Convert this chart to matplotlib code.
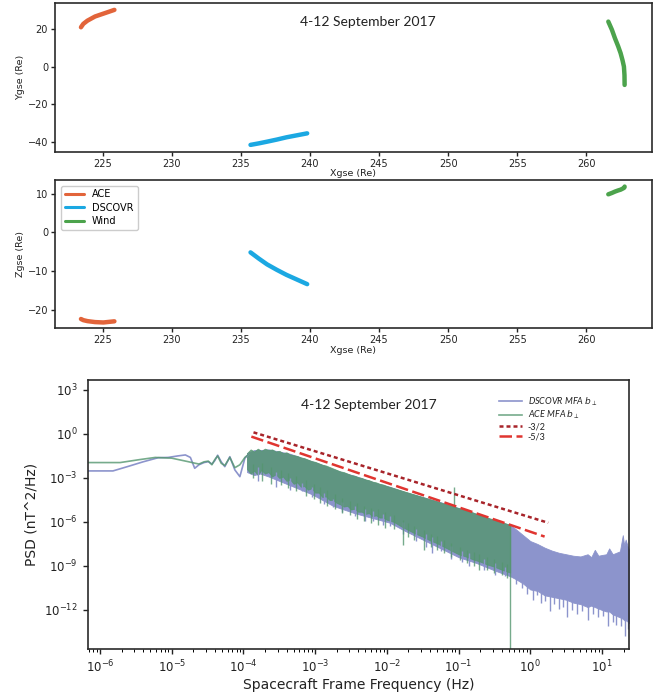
import numpy as np
import matplotlib
matplotlib.use("Agg")
import matplotlib.pyplot as plt

# ---------------- spacecraft positions (GSE, Earth radii) ----------------
ace_x = [223.43, 223.6, 223.9, 224.45, 225.05, 225.85]
ace_y = [20.8, 22.6, 24.3, 26.5, 28.0, 30.0]
ace_z = [-22.4, -22.7, -22.95, -23.2, -23.3, -23.0]

dscovr_x = [235.7, 236.3, 236.9, 237.6, 238.3, 239.8]
dscovr_y = [-41.4, -40.6, -39.7, -38.6, -37.4, -35.3]
dscovr_z = [-5.2, -6.8, -8.3, -9.7, -11.0, -13.4]

wind_x = [261.59, 261.85, 262.07, 262.3, 262.48, 262.62, 262.72, 262.76, 262.77]
wind_y = [23.8, 19.5, 15.0, 10.8, 7.1, 3.3, 0.0, -4.5, -9.7]
wind_z = [9.8, 10.15, 10.5, 10.8, 11.0, 11.25, 11.45, 11.6, 11.8]

craft_names = ["ACE", "DSCOVR", "Wind"]
craft_colors = ["#e2643a", "#1ba8e2", "#4ca34c"]

period_label = "4-12 September 2017"

# ---------------- magnetic field spectra (log10 f [Hz], log10 PSD [nT^2/Hz]) ----------------
# low-frequency part, drawn as lines
dscovr_lf_logf = [-6.3, -5.82, -5.6, -5.4, -5.19, -5.05, -4.92, -4.81, -4.74, -4.68, -4.62,
                  -4.55, -4.49, -4.44, -4.40, -4.36, -4.31, -4.26, -4.19, -4.12, -4.05,
                  -3.98, -3.93]
dscovr_lf_logp = [-2.52, -2.52, -2.2, -1.9, -1.62, -1.6, -1.5, -1.43, -1.6, -2.34, -2.1,
                  -1.95, -1.89, -2.05, -1.82, -1.45, -1.9, -2.23, -1.55, -2.45, -2.91,
                  -1.65, -1.4]
ace_lf_logf = [-6.3, -5.72, -5.45, -5.23, -5.0, -4.77, -4.68, -4.62, -4.55, -4.49, -4.44,
               -4.40, -4.36, -4.31, -4.26, -4.19, -4.12, -4.05, -3.98, -3.93]
ace_lf_logp = [-1.95, -1.95, -1.75, -1.6, -1.65, -1.89, -1.99, -2.05, -1.9, -1.85, -2.1,
               -1.75, -1.5, -2.0, -2.15, -1.6, -2.3, -2.1, -1.6, -1.4]

# dense part, drawn as the band between the upper and lower envelope
ace_band_logf = [-3.95, -3.90, -3.85, -3.80, -3.75, -3.70, -3.65, -3.60, -3.55, -3.50,
                 -3.45, -3.40, -3.35, -3.30, -3.25, -3.20, -3.15, -3.10, -3.05, -3.00,
                 -2.95, -2.90, -2.85, -2.80, -2.75, -2.70, -2.65, -2.60, -2.55, -2.50,
                 -2.45, -2.40, -2.35, -2.30, -2.25, -2.20, -2.15, -2.10, -2.05, -2.00,
                 -1.90, -1.80, -1.70, -1.60, -1.50, -1.40, -1.30, -1.20, -1.10, -1.00,
                 -0.90, -0.80, -0.70, -0.60, -0.50, -0.40, -0.28]
ace_band_top = [-1.3, -1.05, -1.2, -1.0, -1.15, -1.0, -1.1, -1.05, -1.2, -1.15,
                -1.3, -1.25, -1.4, -1.45, -1.5, -1.6, -1.65, -1.75, -1.85, -1.9,
                -2.0, -2.1, -2.15, -2.25, -2.35, -2.45, -2.55, -2.6, -2.7, -2.8,
                -2.85, -2.95, -3.0, -3.1, -3.15, -3.25, -3.3, -3.4, -3.45, -3.55,
                -3.7, -3.85, -4.0, -4.15, -4.3, -4.45, -4.6, -4.75, -4.9, -5.05,
                -5.2, -5.35, -5.55, -5.7, -5.85, -6.0, -6.2]
ace_band_bot = [-2.4, -2.7, -2.5, -2.8, -2.45, -2.7, -2.6, -2.9, -2.75, -3.0,
                -2.9, -3.2, -3.1, -3.4, -3.3, -3.6, -3.55, -3.8, -3.7, -4.0,
                -4.0, -4.3, -4.25, -4.5, -4.5, -4.7, -4.8, -4.95, -4.9, -5.15,
                -5.1, -5.3, -5.3, -5.45, -5.4, -5.6, -5.55, -5.7, -5.7, -5.85,
                -6.0, -6.3, -6.55, -6.8, -7.0, -7.25, -7.45, -7.7, -7.95, -8.2,
                -8.35, -8.55, -8.7, -8.9, -9.05, -9.25, -9.45]

dscovr_band_logf = [-3.95, -3.85, -3.77, -3.65, -3.5, -3.35, -3.2, -3.05, -2.9, -2.75, -2.6,
                    -2.45, -2.3, -2.15, -1.96, -1.75, -1.5, -1.25, -1.0, -0.75, -0.5, -0.28,
                    -0.2, -0.1, 0.0, 0.1, 0.2, 0.3, 0.4, 0.5, 0.6, 0.7, 0.8, 0.85, 0.9,
                    0.95, 1.0, 1.06, 1.1, 1.15, 1.2, 1.25, 1.29, 1.31, 1.33, 1.36, 1.38]
dscovr_band_top = [-1.3, -1.1, -1.1, -1.05, -1.2, -1.35, -1.6, -1.85, -2.1, -2.4, -2.65,
                   -2.85, -3.1, -3.35, -3.6, -3.95, -4.3, -4.65, -5.05, -5.45, -5.9, -6.2,
                   -6.5, -6.9, -7.3, -7.5, -7.75, -7.95, -8.1, -8.2, -8.3, -8.35, -8.2, -8.4, -7.9,
                   -8.3, -8.25, -8.2, -7.8, -8.2, -8.1, -8.0, -6.9, -7.6, -7.2, -7.7, -7.9]
dscovr_band_bot = [-2.6, -2.8, -2.7, -2.9, -3.2, -3.5, -3.8, -4.1, -4.5, -4.9, -5.15,
                   -5.4, -5.6, -5.8, -6.05, -6.6, -7.2, -7.8, -8.4, -8.8, -9.3, -9.7,
                   -9.9, -10.2, -10.6, -10.7, -11.0, -11.1, -11.2, -11.3, -11.5, -11.6, -11.8, -11.7, -11.8,
                   -11.9, -12.0, -12.1, -12.1, -12.3, -12.4, -12.5, -12.6, -12.7, -12.7, -12.8, -12.9]

# individual deep dips below the bands
dscovr_dip_logf = [-3.8, -3.55, -3.35, -3.19, -3.05, -2.88, -2.75, -2.62, -2.45, -2.3, -2.2,
                   -2.05, -1.95, -1.78, -1.6, -1.45, -1.37, -1.25, -1.1, -0.95, -0.85, -0.65,
                   -0.49, -0.35, -0.2, -0.12, -0.05, 0.04, 0.09, 0.15, 0.21, 0.275, 0.33,
                   0.4, 0.46, 0.51, 0.58, 0.65, 0.72, 0.81, 0.88, 0.95, 1.02, 1.09, 1.15,
                   1.2, 1.26, 1.32, 1.36]
dscovr_dip_logp = [-3.2, -3.6, -3.8, -3.9, -4.3, -4.8, -5.0, -5.3, -5.6, -5.9, -5.9,
                   -6.2, -6.3, -6.8, -7.3, -7.7, -8.1, -8.0, -8.5, -8.7, -9.0, -9.3,
                   -9.6, -9.7, -10.2, -10.5, -10.9, -11.3, -11.0, -11.5, -11.4, -12.1, -11.6,
                   -11.9, -11.8, -12.45, -12.0, -12.3, -12.1, -12.7, -12.3, -12.5, -12.4, -13.1, -12.8,
                   -13.0, -13.1, -13.8, -13.3]
ace_dip_logf = [-3.87, -3.74, -3.62, -3.48, -3.38, -3.27, -3.13, -3.02, -2.93, -2.83, -2.72,
                -2.62, -2.52, -2.42, -2.32, -2.22, -2.12, -2.02, -1.9, -1.78, -1.7, -1.62,
                -1.48, -1.38, -1.3, -1.2, -1.1, -0.98, -0.88, -0.78, -0.72, -0.6, -0.5,
                -0.4, -0.33]
ace_dip_logp = [-3.0, -3.2, -3.4, -3.5, -3.7, -3.9, -4.2, -4.4, -4.7, -4.9, -5.1,
                -5.4, -5.5, -5.8, -5.9, -6.1, -6.2, -6.4, -6.5, -7.6, -7.0, -7.2,
                -7.9, -7.7, -7.9, -8.1, -8.4, -8.6, -8.8, -9.0, -9.3, -9.3, -9.5,
                -9.6, -9.8]
ace_peak_logf = [-1.06]
ace_peak_logp = [-3.6]
# last ACE bin at the Nyquist frequency (0.5 Hz)
ace_nyq_logf = -0.28
ace_nyq_logp = -16.0

# reference power laws: slope, log10 f range, log10 PSD at the first frequency
fit_slopes = [-3 / 2, -5 / 3]
fit_labels = ["-3/2", "-5/3"]
fit_logf = [(-3.86, 0.25), (-3.89, 0.2)]
fit_logp0 = [0.11, -0.18]
fit_colors = ["#a8242a", "#e03530"]
fit_styles = [(0, (1.6, 1.2)), (0, (5, 1.8))]

blue = "#8c94cc"
green = "#54966f"
green_alpha = 0.8

# ---------------- figure ----------------
fig = plt.figure(figsize=(6.68, 6.92), dpi=100)
ax1 = fig.add_axes([0.0823, 0.7808, 0.8933, 0.2145])
ax2 = fig.add_axes([0.0823, 0.5256, 0.8933, 0.2143])
ax3 = fig.add_axes([0.1313, 0.0617, 0.8103, 0.3892])

spine_col = "#2a2a2a"
for ax in (ax1, ax2, ax3):
    for s in ax.spines.values():
        s.set_linewidth(1.2)
        s.set_color(spine_col)

xs = [ace_x, dscovr_x, wind_x]
ys = [ace_y, dscovr_y, wind_y]
zs = [ace_z, dscovr_z, wind_z]

for x, y, c in zip(xs, ys, craft_colors):
    ax1.plot(x, y, color=c, lw=3.2, solid_capstyle="round")
for x, z, c, n in zip(xs, zs, craft_colors, craft_names):
    ax2.plot(x, z, color=c, lw=3.2, solid_capstyle="round", label=n)

for ax in (ax1, ax2):
    ax.set_xlim(221.55, 264.73)
    ax.set_xticks([225, 230, 235, 240, 245, 250, 255, 260])
    ax.tick_params(labelsize=7, length=3, width=1, pad=2, colors="#222222")
    ax.set_xlabel("Xgse (Re)", fontsize=6.8, labelpad=0.5, color="#222222")

ax1.set_ylim(-45.0, 33.5)
ax1.set_yticks([-40, -20, 0, 20])
ax1.set_ylabel("Ygse (Re)", fontsize=6.8, labelpad=2, color="#222222")
ax1.text(0.524, 0.872, period_label, transform=ax1.transAxes, ha="center", va="center",
         fontsize=10, family="Lato", color="#222222")

ax2.set_ylim(-24.8, 13.5)
ax2.set_yticks([-20, -10, 0, 10])
ax2.set_ylabel("Zgse (Re)", fontsize=6.8, labelpad=2, color="#222222")
leg2 = ax2.legend(loc="upper left", fontsize=7, handlelength=2.0, labelspacing=0.35,
                  borderpad=0.4, handletextpad=0.8, framealpha=1, edgecolor="#cccccc",
                  fancybox=True, bbox_to_anchor=(0.002, 0.995))
for h in leg2.get_lines():
    h.set_linewidth(2.2)

# ---------------- spectra ----------------
def p10(v):
    return np.power(10.0, np.asarray(v, dtype=float))


def dip_tops(logf, band_logf, band_bot):
    # each dip starts half a decade inside the band
    return p10(np.interp(logf, band_logf, band_bot) + 0.5)


ax3.fill_between(p10(dscovr_band_logf), p10(dscovr_band_bot), p10(dscovr_band_top),
                 color=blue, lw=0.6, edgecolor=blue)
ax3.vlines(p10(dscovr_dip_logf), p10(dscovr_dip_logp),
           dip_tops(dscovr_dip_logf, dscovr_band_logf, dscovr_band_bot),
           color=blue, lw=1.0)
ax3.plot(p10(dscovr_lf_logf), p10(dscovr_lf_logp), color=blue, lw=1.2,
         label=r"DSCOVR MFA $b_{\perp}$")

ax3.fill_between(p10(ace_band_logf), p10(ace_band_bot), p10(ace_band_top),
                 color=green, alpha=green_alpha, lw=0.6, edgecolor=green)
ax3.vlines(p10(ace_dip_logf), p10(ace_dip_logp),
           dip_tops(ace_dip_logf, ace_band_logf, ace_band_bot),
           color=green, lw=1.0, alpha=green_alpha)
ax3.vlines(p10(ace_peak_logf), p10(np.interp(ace_peak_logf, ace_band_logf, ace_band_top)),
           p10(ace_peak_logp), color=green, lw=1.0, alpha=green_alpha)
ax3.vlines(p10(ace_nyq_logf), p10(ace_nyq_logp), p10(ace_band_top[-1]),
           color=green, lw=1.0, alpha=green_alpha)
ax3.plot(p10(ace_lf_logf), p10(ace_lf_logp), color=green, lw=1.2, alpha=green_alpha,
         label=r"ACE MFA $b_{\perp}$")

for slope, (lf0, lf1), lp0, col, ls, lab in zip(fit_slopes, fit_logf, fit_logp0,
                                                fit_colors, fit_styles, fit_labels):
    f = p10([lf0, lf1])
    psd = p10(lp0) * (f / f[0]) ** slope
    ax3.plot(f, psd, color=col, lw=1.8, linestyle=ls, label=lab)

ax3.set_xscale("log")
ax3.set_yscale("log")
ax3.set_xlim(10 ** -6.172, 10 ** 1.3765)
ax3.set_ylim(10 ** -14.68, 10 ** 3.68)
ax3.set_xticks([1e-6, 1e-5, 1e-4, 1e-3, 1e-2, 1e-1, 1e0, 1e1])
ax3.set_yticks([1e3, 1e0, 1e-3, 1e-6, 1e-9, 1e-12])
ax3.yaxis.set_minor_locator(matplotlib.ticker.NullLocator())
ax3.tick_params(which="major", labelsize=8.5, length=3.5, width=1, colors="#222222")
ax3.tick_params(which="minor", length=2, width=0.7)
ax3.set_xlabel("Spacecraft Frame Frequency (Hz)", fontsize=10, labelpad=2, color="#222222")
ax3.set_ylabel("PSD (nT^2/Hz)", fontsize=10, labelpad=4, color="#222222")
ax3.text(0.52, 0.907, period_label, transform=ax3.transAxes, ha="center", va="center",
         fontsize=10, family="Lato", color="#222222")

leg3 = ax3.legend(loc="upper right", bbox_to_anchor=(0.95, 0.96), frameon=False,
                  fontsize=6.5, handlelength=2.6, labelspacing=0.12, handletextpad=0.6,
                  borderpad=0)
for t in leg3.get_texts():
    t.set_family("Lato")
    t.set_color("#222222")
for t in leg3.get_texts()[:2]:
    t.set_style("italic")

fig.savefig("out.png", dpi=100)
